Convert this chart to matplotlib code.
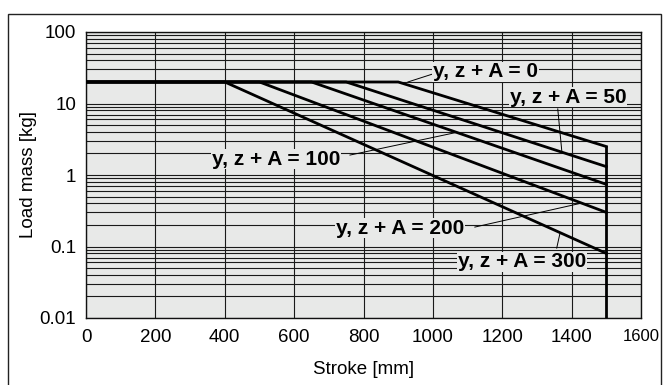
import matplotlib
matplotlib.use("Agg")
import matplotlib.pyplot as plt
from matplotlib.patches import Rectangle
from matplotlib.ticker import FixedLocator, NullFormatter

plt.rcParams["font.family"] = ["Liberation Sans", "DejaVu Sans"]

# data
series_labels = ["y, z + A = 0", "y, z + A = 50", "y, z + A = 100",
                 "y, z + A = 200", "y, z + A = 300"]
max_load = 20.0
knee_stroke = [900, 750, 650, 500, 400]
max_stroke = 1500
end_load = [2.5, 1.31, 0.74, 0.30, 0.080]

x_ticks = [0, 200, 400, 600, 800, 1000, 1200, 1400, 1600]
y_ticks = [0.01, 0.1, 1, 10, 100]
y_tick_labels = ["0.01", "0.1", "1", "10", "100"]

# label positions (data coords) and leader-line ends
label_pos = [(1000, 27.6), (1222, 12.3), (363, 1.67), (720, 0.18), (1072, 0.061)]
leader_from = [(1000, 25.9), (1360, 8.4), (761, 1.9), (1121, 0.187), (1357, 0.095)]
leader_to = [(928, 20), (1372, 2.08), (1069, 3.95), (1429, 0.405), (1366, 0.15)]

fig = plt.figure(figsize=(6.66, 3.85), dpi=100)
fig.patch.set_facecolor("white")
fig.add_artist(Rectangle((8 / 666, -0.05), (661 - 8) / 666, 1.05 - 14 / 385,
                         transform=fig.transFigure, fill=False,
                         edgecolor="#222222", linewidth=1.0))

ax = fig.add_axes([86 / 666, 1 - 318 / 385, (641 - 86) / 666, (318 - 32) / 385])
ax.set_facecolor("#e8e9e8")
ax.set_yscale("log")
ax.set_xlim(0, 1600)
ax.set_ylim(0.01, 100)

# grid: every 200 mm, every 1..9 per decade
minor_y = [m * 10.0 ** d for d in range(-2, 2) for m in range(2, 10)]
ax.yaxis.set_minor_locator(FixedLocator(minor_y))
ax.yaxis.set_minor_formatter(NullFormatter())
ax.set_xticks(x_ticks)
ax.set_yticks(y_ticks)
ax.set_yticklabels(y_tick_labels)
ax.grid(True, which="both", axis="y", color="#1a1a1a", linewidth=0.8)
ax.grid(True, which="major", axis="x", color="#1a1a1a", linewidth=0.8)
ax.set_axisbelow(True)
ax.tick_params(which="both", length=0)
ax.tick_params(axis="x", labelsize=13.5, pad=8)
ax.tick_params(axis="y", labelsize=13.5, pad=7)
xt = ax.get_xticklabels()
xt[-1].set_fontsize(12)
for s in ax.spines.values():
    s.set_linewidth(1.0)
    s.set_color("#111111")

for k, e in zip(knee_stroke, end_load):
    ax.plot([0, k, max_stroke], [max_load, max_load, e], color="black",
            linewidth=2.0, solid_joinstyle="miter", zorder=3)
ax.plot([max_stroke, max_stroke], [end_load[0], 0.01], color="black",
        linewidth=2.0, zorder=3)

for lab, pos, a, b in zip(series_labels, label_pos, leader_from, leader_to):
    ax.plot([a[0], b[0]], [a[1], b[1]], color="black", linewidth=0.7, zorder=4)
    ax.text(pos[0], pos[1], lab, fontsize=15, fontweight="bold", ha="left",
            va="center", zorder=5,
            bbox=dict(facecolor="#e8e9e8", edgecolor="none", pad=0.5))

ax.set_xlabel("Stroke [mm]", fontsize=13.5, labelpad=11)
ax.set_ylabel("Load mass [kg]", fontsize=13.5, labelpad=2)

fig.savefig("out.png", dpi=100)
